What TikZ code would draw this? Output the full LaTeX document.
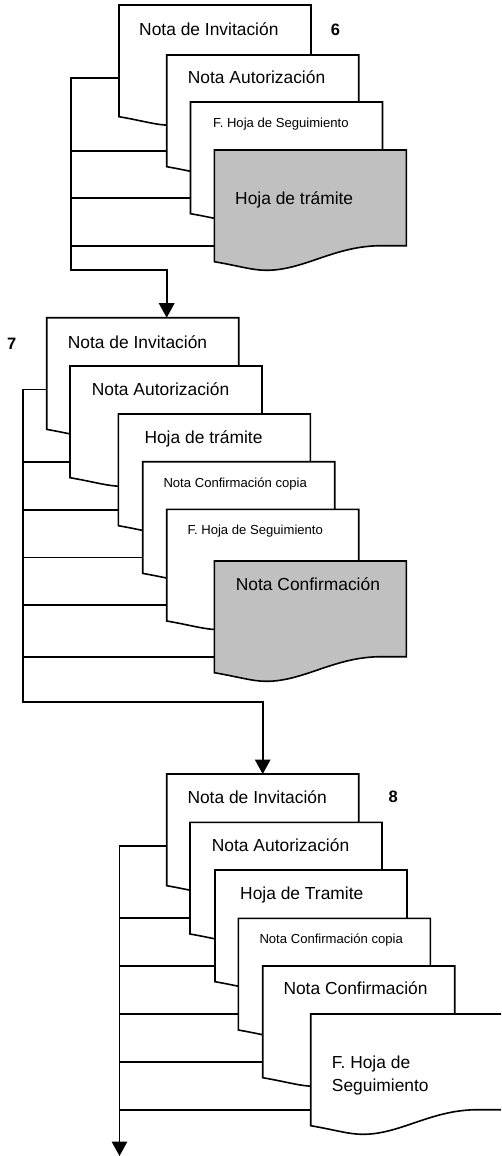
\documentclass[tikz,border=0pt]{standalone}
\usepackage{fontspec}
\setmainfont{Liberation Sans}
\usetikzlibrary{arrows.meta,calc}
\definecolor{sheetgray}{RGB}{192,192,192}
\tikzset{
  wire/.style={line width=1.6pt},
  flow/.style={wire, -{Triangle[length=14.5pt,width=15.5pt]}},
  sheet/.style={anchor=north west, minimum width=192pt, minimum height=111.7pt,
                inner sep=0pt, outer sep=0pt},
  sheetline/.style={line width=1.6pt},
  bigtxt/.style={anchor=base west, inner sep=0pt, font=\fontsize{17.4}{23.4}\selectfont},
  smalltxt/.style={anchor=base west, inner sep=0pt, font=\fontsize{13.1}{16}\selectfont},
  steptag/.style={anchor=base west, inner sep=0pt, font=\fontsize{16.5}{20}\selectfont\bfseries},
}

% document sheet with a wavy lower edge: name, left, top, fill colour
\newcommand\docsheet[4]{%
  \node[sheet] (#1) at (#2,#3) {};
  \draw[sheetline, fill=#4]
    (#1.north west) -- (#1.north east) -- ($(#1.north east)+(0,95.7)$)
    -- ($(#1.north west)+(167,95.7)$)
    .. controls ($(#1.north west)+(120,95.7)$) and ($(#1.north west)+(90,120.3)$)
    .. ($(#1.north west)+(52,120.3)$)
    .. controls ($(#1.north west)+(38,120.3)$) and ($(#1.north west)+(25,116)$)
    .. (#1.south west) -- cycle;
  \coordinate (#1-in) at ($(#1.north west)+(0,95.7)$);
}

\begin{document}
\begin{tikzpicture}[x=1pt, y=-1pt]
\useasboundingbox (0,0) rectangle (501,1156);
\clip (0,0) rectangle (501,1156);

% ---- step 6
\docsheet{s6a}{119}{5}{white}
\docsheet{s6b}{166.7}{55}{white}
\docsheet{s6c}{190.5}{102}{white}
\docsheet{s6d}{214.3}{150}{sheetgray}
\node[bigtxt]   (t6a) at (139,35.7)   {Nota de Invitación};
\node[bigtxt]   (t6b) at (187.7,83.6) {Nota Autorización};
\node[smalltxt] (t6c) at (213,127.5)  {F. Hoja de Seguimiento};
\node[bigtxt]   (t6d) at (235,204)    {Hoja de trámite};
\node[steptag]  (n6)  at (330.7,35.7) {6};

% ---- step 7
\docsheet{s7a}{46.7}{317.7}{white}
\docsheet{s7b}{70}{366}{white}
\docsheet{s7c}{118.3}{414}{white}
\docsheet{s7d}{142.7}{461.7}{white}
\docsheet{s7e}{166.7}{509.3}{white}
\docsheet{s7f}{214.3}{561}{sheetgray}
\node[bigtxt]   (t7a) at (67.7,348)   {Nota de Invitación};
\node[bigtxt]   (t7b) at (91.7,395.6) {Nota Autorización};
\node[bigtxt]   (t7c) at (144.3,443)  {Hoja de trámite};
\node[smalltxt] (t7d) at (163.3,487.4){Nota Confirmación copia};
\node[smalltxt] (t7e) at (187.3,534.7){F. Hoja de Seguimiento};
\node[bigtxt]   (t7f) at (235.7,590.2){Nota Confirmación};
\node[steptag]  (n7)  at (7,349.3)    {7};

% ---- step 8
\docsheet{s8a}{166.7}{774}{white}
\docsheet{s8b}{190}{822.3}{white}
\docsheet{s8c}{215}{870}{white}
\docsheet{s8d}{238.3}{918.3}{white}
\docsheet{s8e}{262.7}{966}{white}
\docsheet{s8f}{310.7}{1014}{white}
\node[bigtxt]   (t8a) at (187.3,803)  {Nota de Invitación};
\node[bigtxt]   (t8b) at (211.7,851.3){Nota Autorización};
\node[bigtxt]   (t8c) at (240,899)    {Hoja de Tramite};
\node[smalltxt] (t8d) at (259.3,943.7){Nota Confirmación copia};
\node[bigtxt]   (t8e) at (283.3,994.6){Nota Confirmación};
\node[bigtxt]   (t8f) at (331.7,1068.3)
  {\begin{tabular}[t]{@{}l@{}}F. Hoja de\\Seguimiento\end{tabular}};
\node[steptag]  (n8)  at (388.3,802.7){8};

% ---- gathering lines and flow arrows
\coordinate (j6) at (71,270);
\coordinate (s6a-top) at ($(s6a.north west)+(0,72.7)$);
\draw[flow] (s6a-top) -| (j6) -| ($(s7a.north west)+(120,0)$);
\foreach \d in {s6b,s6c,s6d} \draw[wire] (\d-in) -- (\d-in -| j6);

\coordinate (j7) at (22.7,701.7);
\coordinate (s7a-top) at ($(s7a.north west)+(0,71.6)$);
\draw[flow] (s7a-top) -| (j7) -| ($(s8a.north west)+(96,0)$);
\foreach \d in {s7b,s7c,s7d,s7e,s7f} \draw[wire] (\d-in) -- (\d-in -| j7);

\coordinate (j8) at (119.5,1156);
\coordinate (s8a-top) at ($(s8a.north west)+(0,72)$);
\draw[flow] (s8a-top) -| (j8);
\foreach \d in {s8b,s8c,s8d,s8e,s8f} \draw[wire] (\d-in) -- (\d-in -| j8);
\end{tikzpicture}
\end{document}
